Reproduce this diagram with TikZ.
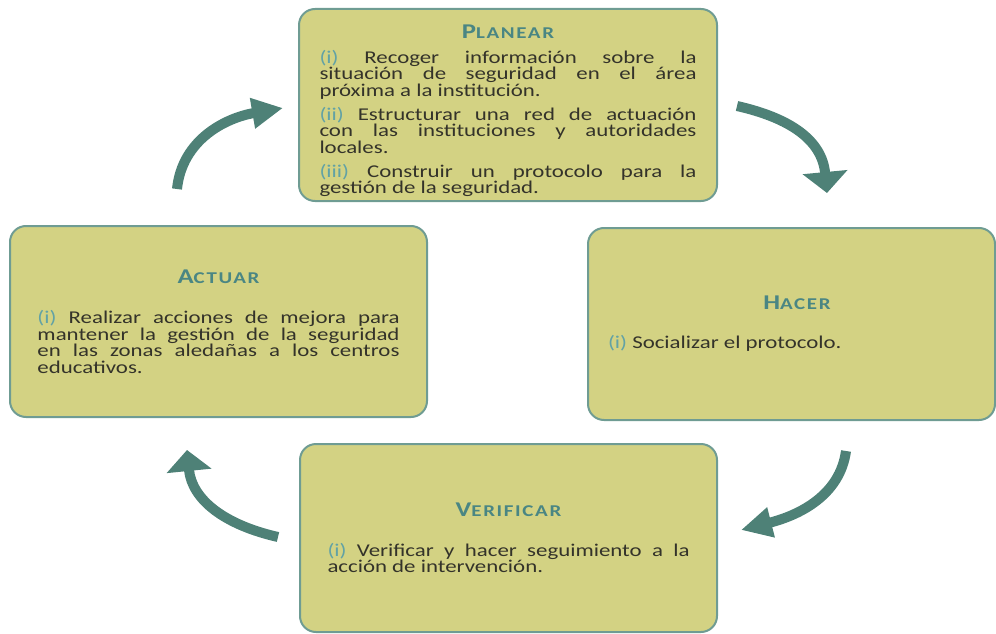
\documentclass[tikz,border=0pt]{standalone}
\usepackage{fontspec}
\setmainfont{Carlito}[FakeStretch=1.27]
\newfontfamily\titfont{Carlito}[FakeStretch=1.27,LetterSpace=10]
\usetikzlibrary{arrows.meta,positioning}

\definecolor{caja}{HTML}{D3D283}
\definecolor{borde}{HTML}{6F9C93}
\definecolor{verdeo}{HTML}{4A8683}
\definecolor{numeral}{HTML}{62A2A5}
\definecolor{flecha}{HTML}{4E8177}
\definecolor{texto}{HTML}{34332A}

\newcommand{\titulo}[2]{{\centering\titfont\bfseries\color{verdeo}%
	\fontsize{21}{20}\selectfont #1\fontsize{16.5}{20}\selectfont #2\par}}
\newcommand{\numer}[1]{{\color{numeral}(#1)}}

\begin{document}
\begin{tikzpicture}[x=1pt, y=-1pt]
	\tikzstyle{fase} = [ draw=borde, line width=2pt, fill=caja, rounded corners=16pt, inner sep=0pt, align=justify, text=texto, font={\fontsize{18}{16.5}\selectfont}];
	\tikzstyle{giro} = [ draw=flecha, line width=10pt ];
	\tikzstyle{largo} = [ -{Triangle[width=29pt,length=31pt]} ];
	\tikzstyle{ancho} = [ -{Triangle[width=44pt,length=21pt]} ];

	\useasboundingbox (0,0) rectangle (996,634);

	% las cuatro fases
	\node[fase, minimum width=418pt, minimum height=192pt, text width=377pt, text height=25pt] (planear) at (508,105) {
		\titulo{P}{LANEAR}\vspace{8.5pt}
		\numer{i} Recoger información sobre la\linebreak situación de seguridad en el área\linebreak próxima a la institución.\par\vspace{7.5pt}
		\numer{ii} Estructurar una red de actuación\linebreak con las instituciones y autoridades\linebreak locales.\par\vspace{7.5pt}
		\numer{iii} Construir un protocolo para la\linebreak gestión de la seguridad.\par};
	\node[fase, minimum width=407pt, minimum height=192pt, text width=367pt] (hacer) at (791.5,324) {
		\titulo{\hspace*{11pt}H}{ACER}\vspace{22.5pt}
		\numer{i} Socializar el protocolo.\par};
	\node[fase, minimum width=417pt, minimum height=188pt, text width=362pt] (verificar) at (508.5,538) {
		\titulo{V}{ERIFICAR}\vspace{23.5pt}
		\numer{i} Verificar y hacer seguimiento a la\linebreak acción de intervención.\par};
	\node[fase, minimum width=417pt, minimum height=191pt, text width=362pt] (actuar) at (218.5,321.5) {
		\titulo{A}{CTUAR}\vspace{24pt}
		\numer{i} Realizar acciones de mejora para\linebreak mantener la gestión de la seguridad\linebreak en las zonas aledañas a los centros\linebreak educativos.\par};

	% extremos de las flechas
	\coordinate (a1) at (177,189);
	\coordinate (a2) at (283,108);
	\coordinate (b1) at (737,106);
	\coordinate (b2) at (827,193);
	\coordinate (c1) at (846,451);
	\coordinate (c2) at (741,530);
	\coordinate (d1) at (278,537);
	\coordinate (d2) at (187,450);

	\draw[giro, largo] (a1) .. controls (182,140) and (225,118) .. (a2);
	\draw[giro, ancho] (b1) .. controls (790,118) and (822,140) .. (b2);
	\draw[giro, largo] (c1) .. controls (840,495) and (800,515) .. (c2);
	\draw[giro, ancho] (d1) .. controls (225,525) and (192,500) .. (d2);
\end{tikzpicture}
\end{document}
